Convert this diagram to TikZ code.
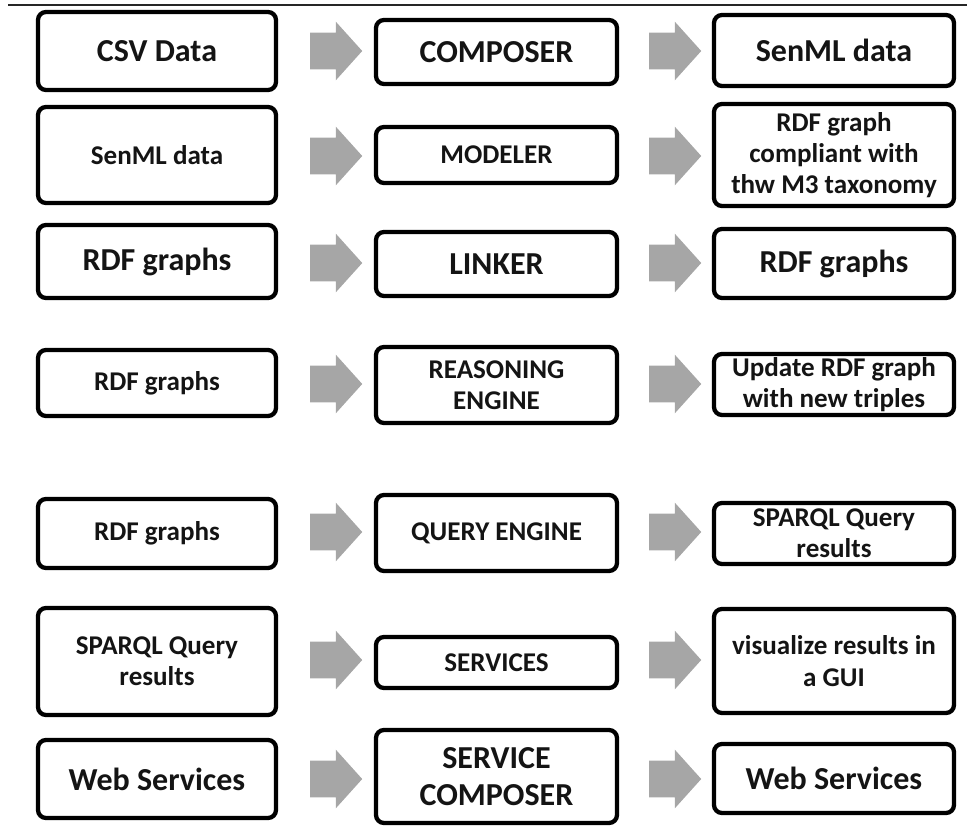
\documentclass[tikz,border=0pt]{standalone}
\usepackage{fontspec}
\setmainfont{Carlito}
\usetikzlibrary{shapes.arrows}
\definecolor{arrowgray}{HTML}{A6A6A6}
\definecolor{inkblack}{HTML}{141414}
\tikzset{
  box/.style 2 args={draw=black, line width=3.2pt, rounded corners=6pt, fill=white,
    inner sep=0pt, align=center, text=inkblack,
    minimum width={(#1-4)*0.75pt}, minimum height={(#2-4)*0.75pt}},
  big/.style={font=\fontsize{24}{27.5}\selectfont\bfseries},
  small/.style={font=\fontsize{20.3}{23.5}\selectfont\bfseries},
  flow/.style={single arrow, fill=arrowgray, draw=none,
    inner xsep=0pt, inner ysep=13.5pt, text height=0pt, text depth=0pt,
    minimum height=39pt,
    single arrow head extend=8.25pt, single arrow tip angle=96},
}
\begin{document}
\begin{tikzpicture}[x=0.75pt, y=-0.75pt]
\useasboundingbox (0,0) rectangle (967,827);

% rule along the top edge
\coordinate (ruleL) at (8,5);
\coordinate (ruleR) at (967,5);
\draw[line width=1.6pt, draw=black!85] (ruleL) -- (ruleR);

% row 1
\node[box={242}{82}, big] (in1)  at (157,51)    {CSV Data};
\node[box={245}{68}, big] (op1)  at (496.5,52)  {COMPOSER};
\node[box={244}{75}, big] (out1) at (834,50.5)  {SenML data};
\node[flow] (a11) at (328,51) {};
\node[flow] (a12) at (667,51) {};

% row 2
\node[box={242}{100}, small] (in2)  at (157,155)   {SenML data};
\node[box={245}{60},  small] (op2)  at (496.5,155) {MODELER};
\node[box={244}{106}, small] (out2) at (834,155)   {RDF graph\\compliant with\\thw M3 taxonomy};
\node[flow] (a21) at (328,156) {};
\node[flow] (a22) at (667,156) {};

% row 3
\node[box={242}{77}, big] (in3)  at (157,261.5)   {RDF graphs};
\node[box={245}{68}, big] (op3)  at (496.5,264)   {LINKER};
\node[box={244}{73}, big] (out3) at (834,263.5)   {RDF graphs};
\node[flow] (a31) at (328,263) {};
\node[flow] (a32) at (667,263) {};

% row 4
\node[box={242}{70}, small] (in4)  at (157,383)   {RDF graphs};
\node[box={245}{80}, small] (op4)  at (496.5,385) {REASONING\\ENGINE};
\node[box={244}{65}, small] (out4) at (834,384.5) {Update RDF graph\\with new triples};
\node[flow] (a41) at (328,384) {};
\node[flow] (a42) at (667,384) {};

% row 5
\node[box={242}{73}, small] (in5)  at (157,533.5)   {RDF graphs};
\node[box={245}{80}, small] (op5)  at (496.5,533)   {QUERY ENGINE};
\node[box={244}{65}, small] (out5) at (834,533.5)   {SPARQL Query\\results};
\node[flow] (a51) at (328,532) {};
\node[flow] (a52) at (667,532) {};

% row 6
\node[box={242}{111}, small] (in6)  at (157,661.5)   {SPARQL Query\\results};
\node[box={245}{55},  small] (op6)  at (496.5,662.5) {SERVICES};
\node[box={244}{108}, small] (out6) at (834,661)     {visualize results in\\a GUI};
\node[flow] (a61) at (328,660) {};
\node[flow] (a62) at (667,660) {};

% row 7
\node[box={242}{82}, big] (in7)  at (157,779)     {Web Services};
\node[box={245}{97}, big] (op7)  at (496.5,776.5) {SERVICE\\COMPOSER};
\node[box={244}{73}, big] (out7) at (834,778.5)   {Web Services};
\node[flow] (a71) at (328,779) {};
\node[flow] (a72) at (667,779) {};
\end{tikzpicture}
\end{document}
